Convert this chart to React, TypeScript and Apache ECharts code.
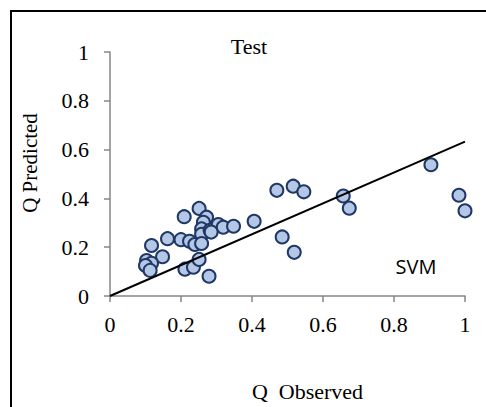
import React, { useEffect, useRef } from "react";
import * as echarts from "echarts";

const observed = [
  0.251, 0.209, 0.272, 0.263, 0.258, 0.258, 0.282, 0.305, 0.319, 0.348,
  0.406, 0.47, 0.516, 0.546, 0.657, 0.674, 0.904, 0.983, 1.0, 0.485,
  0.519, 0.162, 0.2, 0.224, 0.239, 0.258, 0.285, 0.117, 0.148, 0.103,
  0.117, 0.1, 0.113, 0.211, 0.235, 0.251, 0.279,
];
const predicted = [
  0.359, 0.325, 0.323, 0.302, 0.275, 0.253, 0.269, 0.293, 0.282, 0.286,
  0.306, 0.433, 0.45, 0.427, 0.41, 0.36, 0.538, 0.413, 0.349, 0.242,
  0.179, 0.235, 0.231, 0.224, 0.211, 0.215, 0.262, 0.207, 0.161, 0.145,
  0.134, 0.125, 0.105, 0.11, 0.118, 0.15, 0.081,
];
const trendX = [0, 1];
const trendY = [0, 0.633];
const axisTicks = [0, 0.2, 0.4, 0.6, 0.8, 1];

const SERIF = "Liberation Serif";

export default function App() {
  const ref = useRef<HTMLDivElement>(null);
  useEffect(() => {
    if (!ref.current) return;
    const chart = echarts.init(ref.current, undefined, { renderer: "svg" });
    const axisCommon = {
      type: "value" as const,
      min: axisTicks[0],
      max: axisTicks[axisTicks.length - 1],
      interval: axisTicks[1] - axisTicks[0],
      splitLine: { show: false },
      axisLine: { show: true, lineStyle: { color: "#868686", width: 1.5 } },
      axisTick: { show: true, length: 6, lineStyle: { color: "#868686", width: 1.5 } },
    };
    chart.setOption({
      animation: false,
      backgroundColor: "#ffffff",
      textStyle: { fontFamily: SERIF, color: "#000" },
      grid: { left: 110, right: 21, top: 52, bottom: 107 },
      xAxis: {
        ...axisCommon,
        name: "Q  Observed",
        nameLocation: "middle",
        nameGap: 84,
        nameTextStyle: { fontFamily: SERIF, fontSize: 22, color: "#000", padding: [0, 0, 0, 40] },
        axisLabel: { fontFamily: SERIF, fontSize: 22, color: "#000", margin: 17 },
      },
      yAxis: {
        ...axisCommon,
        name: "Q Predicted",
        nameLocation: "middle",
        nameGap: 70,
        nameTextStyle: { fontFamily: SERIF, fontSize: 21, color: "#000", padding: [0, 0, 0, 22] },
        axisLabel: { fontFamily: SERIF, fontSize: 22, color: "#000", margin: 21 },
      },
      graphic: [
        {
          type: "rect",
          shape: { x: 11, y: 11, width: 500, height: 420 },
          style: { fill: "none", stroke: "#000", lineWidth: 2 },
          silent: true,
        },
        {
          type: "text",
          x: 249,
          y: 46,
          style: {
            text: "Test",
            font: `22px ${SERIF}`,
            fill: "#000",
            textAlign: "center",
            textVerticalAlign: "middle",
          },
        },
        {
          type: "text",
          x: 416,
          y: 266,
          style: {
            text: "SVM",
            font: "20px Open Sans",
            fill: "#000",
            textAlign: "center",
            textVerticalAlign: "middle",
          },
        },
      ],
      series: [
        {
          type: "line",
          data: trendX.map((x, i) => [x, trendY[i]]),
          symbol: "none",
          lineStyle: { color: "#000", width: 2 },
          z: 3,
        },
        {
          type: "scatter",
          data: observed.map((x, i) => [x, predicted[i]]),
          symbol: "circle",
          symbolSize: 13,
          itemStyle: { color: "#B4C7E7", borderColor: "#203864", borderWidth: 2, opacity: 1 },
          z: 2,
        },
      ],
    });
    return () => chart.dispose();
  }, []);
  return (
    <div
      ref={ref}
      style={{ position: "fixed", left: 0, top: 0, width: 486, height: 407 }}
    />
  );
}
